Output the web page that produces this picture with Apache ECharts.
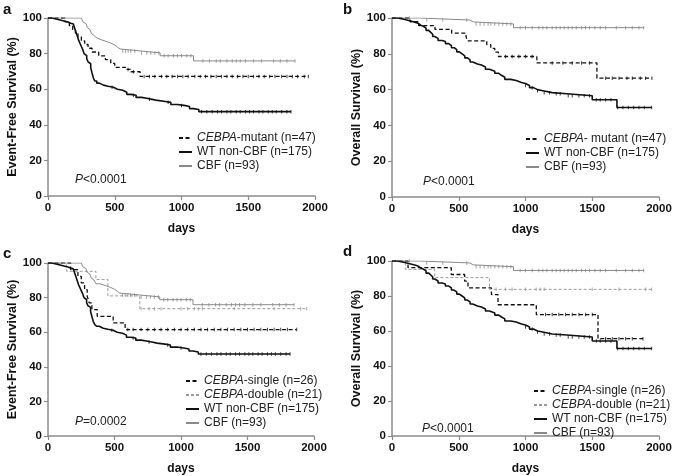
<!DOCTYPE html>
<html>
<head>
<meta charset="utf-8">
<script src="https://cdn.jsdelivr.net/npm/echarts@6/dist/echarts.min.js"></script>
<style>
  html,body{margin:0;padding:0;background:#fff;}
  #chart{width:685px;height:476px;}
</style>
</head>
<body>
<div id="chart"></div>
<script>
// x / y ticks
let dayTicks = [0, 500, 1000, 1500, 2000];
let pctTicks = [0, 20, 40, 60, 80, 100];

// a / c : event-free survival  [day, %]
let efsWt = [[0,100],[30,99.4],[60,98.9],[90,98.3],[120,97.7],[150,97.1],[170,96.6],[190,96.0],[200,94.3],[210,92.0],[220,89.7],[230,87.4],[240,85.7],[250,84.0],[260,82.3],[270,80.0],[280,78.9],[290,77.1],[300,75.4],[310,74.3],[320,72.0],[330,69.1],[340,66.3],[350,64.6],[365,63.4],[385,62.3],[415,61.7],[450,61.1],[490,60.0],[520,59.4],[560,58.3],[590,57.1],[620,56.6],[660,55.4],[700,54.9],[740,54.3],[780,53.7],[820,53.1],[880,52.6],[920,51.4],[970,50.9],[1020,50.3],[1060,49.1],[1090,48.6],[1130,47.4],[1820,47.4]];
let efsCbf = [[0,100],[250,98.9],[262,97.8],[275,96.8],[285,95.7],[295,94.6],[305,93.5],[315,92.4],[325,91.3],[335,90.2],[345,89.1],[360,88.0],[390,87.0],[430,85.9],[470,84.8],[500,83.7],[520,82.6],[540,81.5],[690,80.4],[840,78.8],[1090,75.9],[1850,75.9]];
let efsMut = [[0,100],[127,97.9],[160,95.7],[185,93.6],[205,91.5],[225,89.4],[250,87.2],[275,85.1],[300,83.0],[330,80.9],[380,78.7],[430,76.6],[470,74.5],[500,72.3],[580,71.1],[620,69.8],[690,67.2],[1950,67.2]];
let efsSingle = [[0,100],[170,96.2],[225,92.3],[250,88.5],[275,84.6],[295,80.8],[310,76.9],[330,73.1],[370,69.2],[490,65.4],[580,61.5],[1870,61.5]];
let efsDouble = [[0,100],[140,95.2],[360,90.5],[450,81.0],[690,73.6],[1945,73.6]];

// b / d : overall survival
let osWt = [[0,100],[40,99.4],[80,98.9],[110,98.3],[140,97.7],[170,97.1],[195,96.0],[215,95.4],[235,94.3],[255,93.1],[275,92.0],[290,90.9],[305,89.7],[320,88.6],[345,87.4],[375,86.9],[400,85.7],[425,84.6],[445,83.4],[465,82.3],[485,81.1],[505,80.0],[525,78.9],[545,77.7],[565,76.6],[585,75.4],[605,74.3],[640,73.7],[670,72.6],[700,71.4],[730,70.3],[770,69.1],[800,68.0],[820,66.9],[845,65.7],[890,65.1],[930,64.0],[970,63.4],[1000,62.3],[1030,61.1],[1060,60.0],[1090,59.4],[1130,58.3],[1200,57.7],[1310,56.6],[1500,54.3],[1685,50.0],[1945,50.0]];
let osCbf = [[0,100],[205,98.9],[580,97.8],[610,96.7],[910,94.6],[1885,94.6]];
let osMut = [[0,100],[135,97.9],[200,95.7],[322,93.6],[447,91.5],[555,89.4],[565,87.2],[710,85.1],[740,83.0],[770,80.9],[797,78.5],[1085,74.9],[1535,66.4],[1947,66.4]];
let osSingle = [[0,100],[120,96.2],[444,92.3],[544,88.5],[569,84.6],[745,80.8],[794,75.0],[1081,69.4],[1543,55.6],[1880,55.6]];
let osDouble = [[0,100],[100,95.2],[320,90.5],[730,83.8],[1945,83.8]];

// censored days
let cenEfsMut = [600,640,720,760,800,850,890,930,970,1010,1050,1100,1140,1180,1220,1260,1300,1340,1380,1420,1460,1500,1540,1580,1620,1660,1700,1750,1790,1830,1870,1920,1950];
let cenEfsWt = [480,640,760,900,1000,1150,1190,1230,1270,1300,1340,1370,1410,1440,1480,1510,1540,1580,1610,1650,1680,1710,1750,1790,1820];
let cenEfsCbf = [560,580,600,620,650,700,740,770,800,830,870,900,940,970,1000,1040,1070,1160,1210,1260,1290,1340,1380,1410,1440,1480,1540,1600,1690,1740,1790,1850];
let cenEfsSingle = [600,640,700,750,800,850,900,950,1000,1050,1100,1150,1200,1250,1300,1350,1400,1450,1500,1550,1600,1650,1700,1750,1800,1870];
let cenEfsDouble = [700,760,800,850,1000,1050,1100,1130,1160,1400,1700,1900,1945];
let cenOsMut = [850,900,950,1000,1050,1200,1280,1350,1420,1480,1600,1650,1700,1760,1800,1860,1900,1947];
let cenOsWt = [1000,1050,1090,1140,1180,1230,1260,1320,1350,1400,1440,1480,1530,1560,1600,1640,1690,1730,1770,1810,1850,1890,1945];
let cenOsCbf = [130,260,380,560,630,660,690,720,740,770,800,830,860,890,960,1000,1050,1100,1130,1160,1200,1230,1260,1290,1320,1350,1380,1420,1450,1480,1520,1560,1600,1680,1750,1800,1850,1885];
let cenOsSingle = [1150,1200,1250,1300,1350,1400,1450,1500,1600,1650,1700,1750,1800,1880];
let cenOsDouble = [780,850,900,1000,1080,1110,1140,1500,1700,1900,1945];

let FONT = 'Liberation Sans, Arial, sans-serif';
let styles = {
    mut:    {color:'#111', width:1.3, type:[4,2.5]},
    wt:     {color:'#111', width:1.6, type:'solid'},
    cbf:    {color:'#8a8a8a', width:1, type:'solid'},
    double: {color:'#9a9a9a', width:1, type:[3,2]}
};

function survAt(curve, t){
    let v = curve[0][1];
    for (let i = 0; i < curve.length; i++) {
        if (curve[i][0] <= t) v = curve[i][1];
    }
    return v;
}

let grids = [
    {left:48, top:18, width:267, height:178},
    {left:392, top:18, width:267, height:179},
    {left:48, top:263, width:266, height:176},
    {left:392, top:261, width:267, height:178}
];
let yNames = ['Event-Free Survival (%)','Overall Survival (%)','Event-Free Survival (%)','Overall Survival (%)'];

let panels = [
    [['CEBPA-mutant (n=47)', efsMut, cenEfsMut, 'mut'], ['WT non-CBF (n=175)', efsWt, cenEfsWt, 'wt'], ['CBF (n=93)', efsCbf, cenEfsCbf, 'cbf']],
    [['CEBPA- mutant (n=47)', osMut, cenOsMut, 'mut'], ['WT non-CBF (n=175)', osWt, cenOsWt, 'wt'], ['CBF (n=93)', osCbf, cenOsCbf, 'cbf']],
    [['CEBPA-single (n=26)', efsSingle, cenEfsSingle, 'mut'], ['CEBPA-double (n=21)', efsDouble, cenEfsDouble, 'double'], ['WT non-CBF (n=175)', efsWt, cenEfsWt, 'wt'], ['CBF (n=93)', efsCbf, cenEfsCbf, 'cbf']],
    [['CEBPA-single (n=26)', osSingle, cenOsSingle, 'mut'], ['CEBPA-double (n=21)', osDouble, cenOsDouble, 'double'], ['WT non-CBF (n=175)', osWt, cenOsWt, 'wt'], ['CBF (n=93)', osCbf, cenOsCbf, 'cbf']]
];
let legendPos = [
    {left:178, top:132},
    {left:525, top:133},
    {left:185, top:375},
    {left:533, top:385}
];
let pTexts = ['{i|P}<0.0001','{i|P}<0.0001','{i|P}=0.0002','{i|P}<0.0001'];
let pPos = [[75,174],[423,176],[75,416],[422,423]];
let letters = [['a',3,2],['b',343,2],['c',3,246],['d',343,244]];

let axisColor = '#8c8c8c';
let xAxes = [], yAxes = [], series = [], legends = [], graphics = [];

grids.forEach(function(g, gi){
    xAxes.push({
        type:'value', gridIndex:gi, min:dayTicks[0], max:dayTicks[dayTicks.length-1], interval:dayTicks[1]-dayTicks[0],
        name:'days', nameLocation:'middle', nameGap:27,
        nameTextStyle:{fontFamily:FONT, fontWeight:'bold', fontSize:12, color:'#111'},
        axisLine:{show:true, lineStyle:{color:axisColor, width:1.5}},
        axisTick:{show:true, length:4, lineStyle:{color:axisColor, width:1.2}},
        axisLabel:{fontFamily:FONT, fontWeight:'bold', fontSize:11.5, color:'#111', margin:6,
            formatter:function(v){ return String(v); }},
        splitLine:{show:false}
    });
    yAxes.push({
        type:'value', gridIndex:gi, min:pctTicks[0], max:pctTicks[pctTicks.length-1], interval:pctTicks[1]-pctTicks[0],
        name:yNames[gi], nameLocation:'middle', nameGap:29, nameRotate:90,
        nameTextStyle:{fontFamily:FONT, fontWeight:'bold', fontSize:12.5, color:'#111'},
        axisLine:{show:true, lineStyle:{color:axisColor, width:1.5}},
        axisTick:{show:true, length:4, lineStyle:{color:axisColor, width:1.2}},
        axisLabel:{fontFamily:FONT, fontWeight:'bold', fontSize:11.5, color:'#111', margin:6},
        splitLine:{show:false}
    });

    let names = [];
    panels[gi].forEach(function(c){
        let st = styles[c[3]];
        names.push(c[0]);
        series.push({
            type:'line', name:c[0], xAxisIndex:gi, yAxisIndex:gi, step:'end',
            symbol:'none', data:c[1], animation:false, z:c[3]==='wt'?4:3,
            lineStyle:{color:st.color, width:st.width, type:st.type},
            itemStyle:{color:st.color}
        });
        series.push({
            type:'scatter', xAxisIndex:gi, yAxisIndex:gi, silent:true, animation:false,
            symbol:'rect', symbolSize:[1,3.5], z:5,
            itemStyle:{color:st.color},
            data:c[2].map(function(t){ return [t, survAt(c[1], t)]; })
        });
    });

    legends.push({
        data:names, orient:'vertical', left:legendPos[gi].left, top:legendPos[gi].top,
        itemWidth:13, itemHeight:8, itemGap:2, padding:0, selectedMode:false,
        itemStyle:{opacity:0},
        textStyle:{fontFamily:FONT, fontSize:12, color:'#222', lineHeight:11.5,
            rich:{i:{fontStyle:'italic', fontFamily:FONT, fontSize:12, color:'#222', lineHeight:11.5}}},
        formatter:function(n){ return n.replace('CEBPA', '{i|CEBPA}'); }
    });

    graphics.push({
        type:'text', left:pPos[gi][0], top:pPos[gi][1],
        style:{text:pTexts[gi], fontFamily:FONT, fontSize:12, fill:'#222',
            rich:{i:{fontStyle:'italic', fontFamily:FONT, fontSize:12, fill:'#222'}}}
    });
    graphics.push({
        type:'text', left:letters[gi][1], top:letters[gi][2],
        style:{text:letters[gi][0], fontFamily:FONT, fontSize:15, fontWeight:'bold', fill:'#111'}
    });
});

let chart = echarts.init(document.getElementById('chart'));
chart.setOption({
    backgroundColor:'#fff',
    animation:false,
    grid:grids,
    xAxis:xAxes,
    yAxis:yAxes,
    legend:legends,
    graphic:graphics,
    series:series
});
</script>
</body>
</html>
